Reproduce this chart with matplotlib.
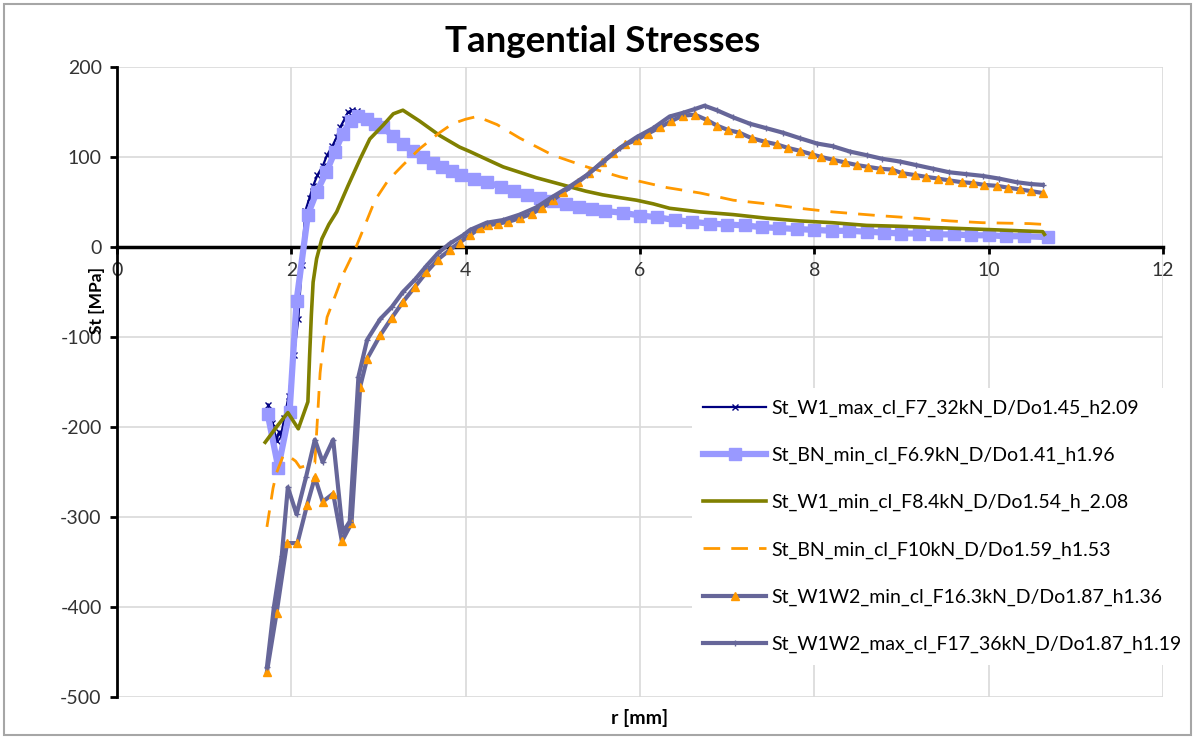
import matplotlib
matplotlib.use('Agg')
import matplotlib.pyplot as plt
from matplotlib.patches import Rectangle

plt.rcParams['font.family'] = ['Lato', 'DejaVu Sans']
plt.rcParams['axes.unicode_minus'] = False

# St_W1_max_cl_F7_32kN
w1max_r = [1.73, 1.78, 1.83, 1.86, 1.88, 1.92, 1.97, 2.03, 2.08, 2.12, 2.16, 2.21, 2.25, 2.30, 2.36, 2.41, 2.47, 2.52, 2.56, 2.61, 2.65, 2.70, 2.75]
w1max_st = [-175, -195, -215, -205, -210, -190, -165, -120, -80, -20, 40, 55, 68, 80, 90, 102, 112, 122, 133, 142, 150, 152, 151]

# St_BN_min_cl_F6.9kN
bn69_r = [1.73, 1.85, 1.98, 2.06, 2.19, 2.29, 2.40, 2.50, 2.59, 2.68, 2.77, 2.87, 2.96, 3.05, 3.17, 3.28, 3.40, 3.51, 3.62, 3.73,
          3.84, 3.95, 4.10, 4.25, 4.40, 4.55, 4.70, 4.85, 5.00, 5.15, 5.30, 5.45, 5.60, 5.80, 6.00, 6.20, 6.40, 6.60, 6.80, 7.00,
          7.20, 7.40, 7.60, 7.80, 8.00, 8.20, 8.40, 8.60, 8.80, 9.00, 9.20, 9.40, 9.60, 9.80, 10.00, 10.20, 10.40, 10.68]
bn69_st = [-186, -245, -183, -60, 36, 61, 83, 106, 126, 140, 146, 142, 137, 133, 123, 114, 107, 100, 93, 89,
           85, 80, 76, 72, 67, 62, 58, 55, 51, 48, 45, 42, 40, 38, 35, 33, 30, 28, 26, 25,
           24, 22, 21, 20, 19, 18, 18, 17, 16, 15, 15, 14, 14, 13, 13, 12, 12, 11]

# St_W1_min_cl_F8.4kN
w1min_r = [1.70, 1.83, 1.96, 2.08, 2.19, 2.21, 2.23, 2.25, 2.29, 2.35, 2.43, 2.52, 2.65, 2.79, 2.90, 3.05, 3.17, 3.28, 3.47, 3.70,
           3.93, 4.05, 4.25, 4.43, 4.62, 4.81, 5.00, 5.19, 5.38, 5.57, 5.76, 5.96, 6.15, 6.34, 6.69, 7.07, 7.45, 7.83, 8.21, 8.60,
           8.98, 9.55, 10.10, 10.62, 10.64]
w1min_st = [-217, -200, -184, -202, -172, -120, -75, -39, -13, 9, 25, 39, 68, 98, 120, 135, 148, 152, 140, 124,
            111, 106, 97, 89, 83, 77, 72, 67, 62, 58, 55, 52, 48, 43, 39, 36, 32, 29, 27, 24,
            23, 21, 19, 17, 14]

# St_BN_min_cl_F10kN
bn10_r = [1.72, 1.79, 1.83, 1.91, 1.98, 2.05, 2.10, 2.27, 2.30, 2.33, 2.37, 2.41, 2.52, 2.60, 2.73, 2.81, 2.96, 3.11, 3.28, 3.47,
          3.70, 3.85, 4.00, 4.13, 4.36, 4.62, 5.00, 5.39, 5.77, 6.31, 6.69, 7.07, 7.45, 7.83, 8.21, 8.72, 9.17, 9.55, 9.93, 10.47,
          10.65]
bn10_st = [-311, -268, -251, -231, -233, -238, -245, -240, -190, -140, -105, -78, -50, -29, -3, 16, 52, 74, 91, 109,
           127, 137, 142, 145, 136, 121, 102, 89, 78, 66, 60, 52, 48, 43, 39, 35, 32, 29, 27, 26,
           25]

# St_W1W2_min_cl_F16.3kN
w1w2min_r = [1.72, 1.83, 1.95, 2.07, 2.18, 2.27, 2.36, 2.48, 2.58, 2.69, 2.79, 2.87, 3.02, 3.15, 3.28, 3.42, 3.55, 3.68, 3.82, 3.93,
             4.05, 4.16, 4.26, 4.37, 4.49, 4.62, 4.76, 4.87, 5.00, 5.12, 5.29, 5.42, 5.56, 5.69, 5.83, 5.96, 6.09, 6.23, 6.36, 6.49,
             6.63, 6.77, 6.88, 7.01, 7.14, 7.28, 7.43, 7.57, 7.70, 7.83, 7.97, 8.08, 8.21, 8.35, 8.49, 8.62, 8.75, 8.89, 9.01, 9.15,
             9.28, 9.42, 9.55, 9.69, 9.82, 9.95, 10.09, 10.22, 10.36, 10.49, 10.62]
w1w2min_st = [-472, -407, -329, -329, -287, -256, -283, -274, -327, -307, -155, -124, -98, -79, -61, -44, -28, -14, -3, 5,
              13, 21, 24, 26, 28, 32, 37, 43, 52, 61, 72, 82, 94, 104, 114, 119, 126, 133, 140, 146,
              147, 141, 135, 130, 127, 121, 117, 114, 110, 107, 103, 100, 97, 94, 91, 89, 87, 86, 82, 80,
              78, 76, 74, 72, 71, 69, 68, 66, 64, 62, 60]

# St_W1W2_max_cl_F17_36kN
w1w2max_r = [1.72, 1.80, 1.89, 1.96, 2.06, 2.17, 2.27, 2.36, 2.48, 2.59, 2.67, 2.77, 2.87, 3.02, 3.15, 3.28, 3.42, 3.55, 3.68, 3.82,
             3.97, 4.05, 4.24, 4.43, 4.62, 4.81, 5.00, 5.19, 5.39, 5.57, 5.77, 5.96, 6.15, 6.34, 6.49, 6.62, 6.74, 6.88, 7.07, 7.26,
             7.45, 7.64, 7.83, 8.03, 8.21, 8.41, 8.60, 8.78, 8.98, 9.17, 9.36, 9.55, 9.74, 9.93, 10.12, 10.32, 10.48, 10.62]
w1w2max_st = [-467, -400, -343, -267, -297, -255, -214, -239, -214, -317, -305, -144, -103, -80, -67, -50, -36, -21, -7, 4,
              13, 19, 27, 30, 36, 44, 56, 67, 80, 94, 110, 122, 132, 145, 149, 153, 157, 152, 144, 137,
              132, 127, 121, 115, 112, 106, 102, 98, 95, 91, 87, 83, 81, 79, 76, 72, 70, 69]

labels = ['St_W1_max_cl_F7_32kN_D/Do1.45_h2.09',
          'St_BN_min_cl_F6.9kN_D/Do1.41_h1.96',
          'St_W1_min_cl_F8.4kN_D/Do1.54_h_2.08',
          'St_BN_min_cl_F10kN_D/Do1.59_h1.53',
          'St_W1W2_min_cl_F16.3kN_D/Do1.87_h1.36',
          'St_W1W2_max_cl_F17_36kN_D/Do1.87_h1.19']

fig = plt.figure(figsize=(11.95, 7.38), dpi=100)
ax = fig.add_axes([117/1195, 1 - 697/738, (1163 - 117)/1195, (697 - 67)/738])

ax.plot(w1max_r, w1max_st, color='#000080', lw=1.6, marker='x', ms=4, mew=1, label=labels[0], zorder=3)
ax.plot(bn69_r, bn69_st, color='#9999FF', lw=4.5, marker='s', ms=8.5, label=labels[1], zorder=4)
ax.plot(w1min_r, w1min_st, color='#808000', lw=2.6, label=labels[2], zorder=5)
ax.plot(bn10_r, bn10_st, color='#FF9900', lw=2, dashes=(6, 4), label=labels[3], zorder=5)
ax.plot(w1w2min_r, w1w2min_st, color='#666699', lw=3, marker='^', ms=6, mfc='#FF9900', mec='#FF9900', label=labels[4], zorder=6)
ax.plot(w1w2max_r, w1w2max_st, color='#666699', lw=3, marker='+', ms=4, mew=1, label=labels[5], zorder=6)

ax.set_xlim(0, 12)
ax.set_ylim(-500, 200)
ax.set_xticks(range(0, 13, 2))
ax.set_yticks(range(-500, 201, 100))
ax.grid(True, color='#D9D9D9', lw=1.2)
ax.set_axisbelow(True)

for s in ['top', 'right']:
    ax.spines[s].set_visible(False)
ax.spines['bottom'].set_position(('data', 0))
ax.spines['bottom'].set_linewidth(2.5)
ax.spines['left'].set_linewidth(2)
ax.tick_params(axis='both', direction='out', length=5, width=2, labelsize=14, pad=6)
for lbl in ax.get_xticklabels() + ax.get_yticklabels():
    lbl.set_color('#333333')

fig.text(603/1195, 1 - 42/738, 'Tangential Stresses', ha='center', va='center', fontsize=26.5, fontweight='bold')
fig.text(97/1195, 1 - 300/738, 'St [MPa]', rotation=90, ha='center', va='center', fontsize=12.5, fontweight='bold')
fig.text(640/1195, 1 - 718/738, 'r [mm]', ha='center', va='center', fontsize=14, fontweight='bold')

leg = ax.legend(loc='upper left', bbox_to_anchor=(0.54, 0.506), fontsize=14, frameon=True,
                facecolor='white', edgecolor='none', framealpha=1, fancybox=False,
                handlelength=3.25, handletextpad=0.25, labelspacing=1.54, borderpad=0.6)

fig.add_artist(Rectangle((4/1195, 3/738), 1187/1195, 731/738, transform=fig.transFigure,
                         fill=False, edgecolor='#A6A6A6', lw=1.5))

plt.savefig('out.png', dpi=100)
plt.close()
